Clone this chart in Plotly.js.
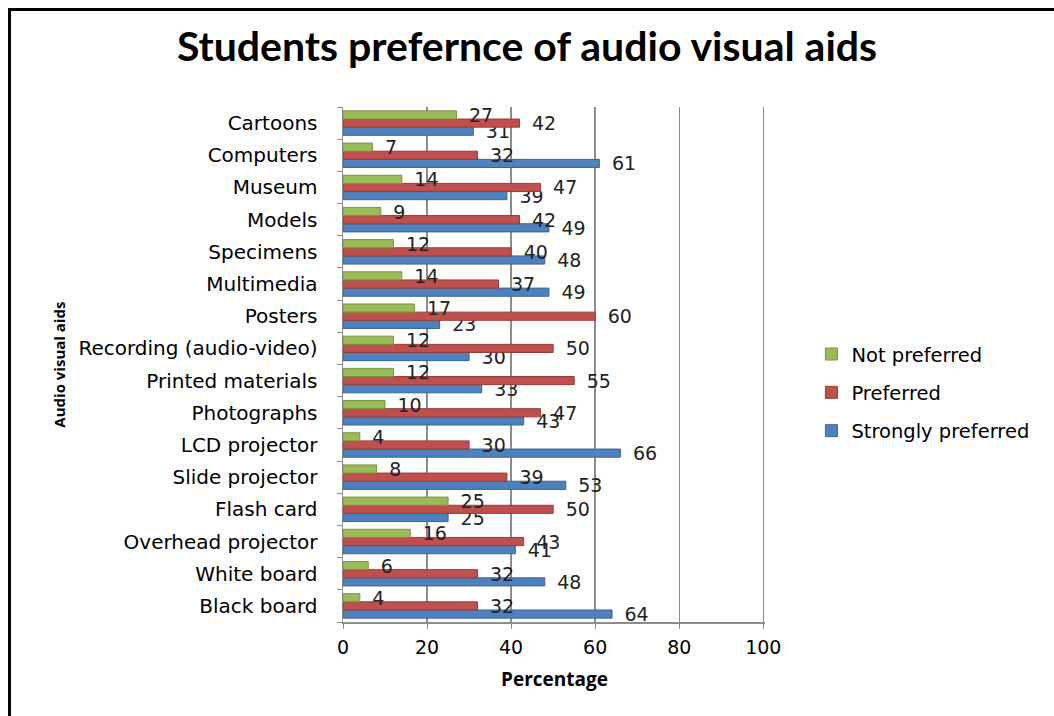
<!DOCTYPE html>
<html>
<head>
<meta charset="utf-8">
<script src="https://cdn.plot.ly/plotly-3.0.1.min.js"></script>
<style>
html,body{margin:0;padding:0;background:#fff;}
#wrap{position:relative;width:1054px;height:716px;}
#chart{position:absolute;left:0;top:0;width:1054px;height:716px;}
#frame{position:absolute;left:8px;top:8px;width:1060px;height:720px;border-left:3px solid #000;border-top:3px solid #000;pointer-events:none;}
</style>
</head>
<body>
<div id="wrap"><div id="chart"></div><div id="frame"></div></div>
<script>
const categories = ["Black board","White board","Overhead projector","Flash card","Slide projector","LCD projector","Photographs","Printed materials","Recording (audio-video)","Posters","Multimedia","Specimens","Models","Museum","Computers","Cartoons"];
const stronglyPreferred = [64,48,41,25,53,66,43,33,30,23,49,48,49,39,61,31];
const preferred = [32,32,43,50,39,30,47,55,50,60,37,40,42,47,32,42];
const notPreferred = [4,6,16,25,8,4,10,12,12,17,14,12,9,14,7,27];
const xTicks = [0,20,40,60,80,100];

const font = "DejaVu Sans, Verdana, sans-serif";
function mk(name, vals, color, line, rank){
  return {
    type:'bar', orientation:'h', name:name, y:categories, x:vals,
    text:vals.map(v => '\u2002' + v), textposition:'outside', cliponaxis:false, constraintext:'none',
    textfont:{family:font,size:19,color:'#222'},
    marker:{color:color,line:{color:line,width:1}},
    legendrank:rank, legendgroup:name, hoverinfo:'x+y+name'
  };
}
const data = [
  mk('Strongly preferred', stronglyPreferred, '#4F81BD', '#3A6494', 3),
  mk('Preferred', preferred, '#C0504D', '#963C39', 2),
  mk('Not preferred', notPreferred, '#9BBB59', '#78943F', 1)
];
const layout = {
  width:1054, height:716,
  margin:{l:343,r:289,t:107,b:94},
  paper_bgcolor:'#fff', plot_bgcolor:'#fff',
  barmode:'group', bargap:0.24, bargroupgap:0,
  title:{text:'<b>Students prefernce of audio visual aids</b>', x:0.5, xref:'container', xanchor:'center', y:0.935, yanchor:'middle',
    font:{family:'Lato, Open Sans, sans-serif', size:41, color:'#000'}},
  xaxis:{range:[0,100.4], tickvals:xTicks, ticktext:xTicks.map(String),
    showgrid:true, gridcolor:'#8c8c8c', gridwidth:1.5, zeroline:false,
    showline:true, linecolor:'#8c8c8c', linewidth:1.5, ticks:'outside', ticklen:5, tickcolor:'#8c8c8c',
    tickfont:{family:font,size:19,color:'#000'}, ticklabelstandoff:3},
  yaxis:{type:'category', categoryorder:'array', categoryarray:categories,
    showline:true, linecolor:'#8c8c8c', linewidth:1.5, ticks:'outside', tickson:'boundaries', ticklen:5, tickcolor:'#8c8c8c',
    showgrid:false, tickfont:{family:font,size:20,color:'#000'}, ticklabelstandoff:20},
  annotations:[
    {text:'<b>Audio visual aids</b>', xref:'paper', yref:'paper', x:-0.675, y:0.5, textangle:-90, showarrow:false,
      xanchor:'center', yanchor:'middle', font:{family:'Open Sans, sans-serif',size:15,color:'#000'}},
    {text:'<b>Percentage</b>', xref:'paper', yref:'paper', x:0.5, y:-0.111, showarrow:false,
      xanchor:'center', yanchor:'middle', font:{family:'Open Sans, sans-serif',size:19,color:'#000'}}
  ],
  legend:{x:1.11, xanchor:'left', y:0.445, yanchor:'middle', tracegroupgap:10,
    font:{family:font,size:19.5,color:'#000'}, itemwidth:30},
  showlegend:true
};
Plotly.newPlot('chart', data, layout, {displayModeBar:false, staticPlot:true});
</script>
</body>
</html>
